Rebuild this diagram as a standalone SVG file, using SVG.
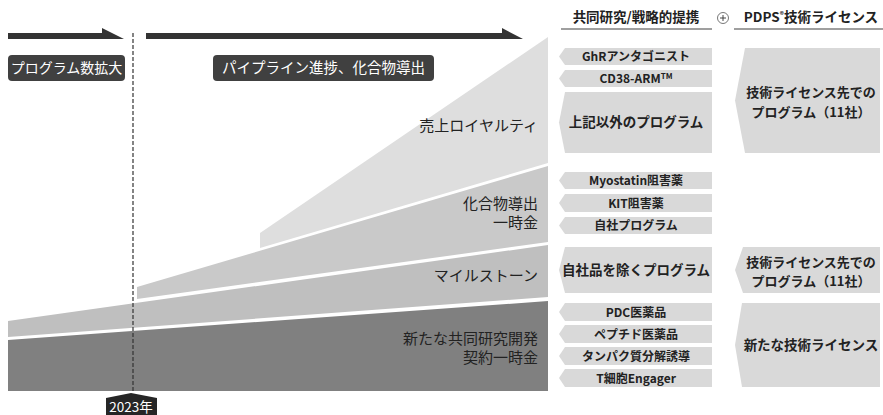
<svg xmlns="http://www.w3.org/2000/svg" width="883" height="415" viewBox="0 0 883 415">
<style>
text{font-family:"Noto Sans CJK JP","Noto Sans",sans-serif;fill:#222}
.hd{font-size:13.5px;font-weight:bold;text-anchor:middle}
.bx{font-size:12px;font-weight:bold;text-anchor:middle}
.bxl{font-size:13.5px;font-weight:bold;text-anchor:middle}
.bxm{font-size:13px;font-weight:bold;text-anchor:middle}
.bl{font-size:15px;text-anchor:end}
.tag{font-size:14.5px;fill:#fff;text-anchor:middle}
.chev{fill:#d9d9d9}
.dark{fill:#404040}
</style>
<rect width="883" height="415" fill="#fff"/>
<!-- bands -->
<g id="bands">
<polygon id="band-royalty" points="260,233 548,37 548,163 260,248" fill="#dedede"/>
<polygon id="band-compound" points="137,287 548,166 548,242 137,299" fill="#c9c9c9"/>
<polygon id="band-milestone" points="8,321 548,245 548,297 8,337" fill="#bfbfbf"/>
<polygon id="band-contract" points="8,340 548,301 548,391 8,391" fill="#808080"/>
</g>
<g id="band-labels">
<text class="bl" x="538" y="131">売上ロイヤルティ</text>
<text class="bl" x="538" y="209">化合物導出</text>
<text class="bl" x="538" y="228">一時金</text>
<text class="bl" x="538" y="281">マイルストーン</text>
<text class="bl" x="538" y="344">新たな共同研究開発</text>
<text class="bl" x="538" y="363">契約一時金</text>
</g>
<!-- top arrows -->
<g id="arrows">
<polygon points="8,33 102,33 102,28 124,39 8,39" style="fill:#333"/>
<polygon points="146,33 502,33 502,28 523,39 146,39" style="fill:#333"/>
<line x1="133" y1="33" x2="133" y2="393" stroke="#333" stroke-width="1.2" stroke-dasharray="4,2"/>
</g>
<g id="phase1">
<rect class="dark" x="8" y="55" width="117" height="26" rx="4"/>
<text class="tag" x="66.5" y="73" style="font-size:14px">プログラム数拡大</text>
</g>
<g id="phase2">
<rect class="dark" x="213" y="55" width="221" height="26" rx="4"/>
<text class="tag" x="323.5" y="73">パイプライン進捗、化合物導出</text>
</g>
<g id="year">
<polygon points="131,393 157,398 157,415 106,415 106,398" fill="#262626"/>
<text x="131" y="412" style="font-size:13.5px;fill:#fff;text-anchor:middle">2023年</text>
</g>
<!-- headers -->
<g id="header-left">
<text class="hd" x="636" y="22">共同研究/戦略的提携</text>
<line x1="561" y1="29" x2="712" y2="29" stroke="#404040" stroke-width="1.2"/>
</g>
<g id="plus">
<circle cx="723" cy="18" r="5.5" fill="#fff" stroke="#555" stroke-width="0.8"/>
<line x1="720" y1="18" x2="726" y2="18" stroke="#333" stroke-width="0.9"/>
<line x1="723" y1="15" x2="723" y2="21" stroke="#333" stroke-width="0.9"/>
</g>
<g id="header-right">
<text class="hd" x="811" y="22">PDPS<tspan style="font-size:8px" dy="-4">®</tspan><tspan dy="4">技術ライセンス</tspan></text>
<line x1="734" y1="29" x2="883" y2="29" stroke="#404040" stroke-width="1.2"/>
</g>
<!-- left column boxes -->
<g id="ghr"><polygon class="chev" points="565,48 712,48 712,65 565,65 559,56.5"/><text class="bx" x="636" y="61">GhRアンタゴニスト</text></g>
<g id="cd38"><polygon class="chev" points="565,70 712,70 712,87 565,87 559,78.5"/><text class="bx" x="636" y="83">CD38-ARM<tspan style="font-size:8px" dy="-4">TM</tspan></text></g>
<g id="other"><polygon class="chev" points="565,92 712,92 712,153 565,153 559,122.5"/><text class="bxl" x="636" y="127">上記以外のプログラム</text></g>
<g id="myostatin"><polygon class="chev" points="565,172 712,172 712,189 565,189 559,180.5"/><text class="bx" x="636" y="185">Myostatin阻害薬</text></g>
<g id="kit"><polygon class="chev" points="565,194 712,194 712,212 565,212 559,203"/><text class="bx" x="636" y="207.5">KIT阻害薬</text></g>
<g id="own"><polygon class="chev" points="565,217 712,217 712,234 565,234 559,225.5"/><text class="bx" x="636" y="230">自社プログラム</text></g>
<g id="excl"><polygon class="chev" points="565,247 712,247 712,293 565,293 559,270"/><text class="bxl" x="636" y="275">自社品を除くプログラム</text></g>
<g id="pdc"><polygon class="chev" points="565,303 712,303 712,321 565,321 559,312"/><text class="bx" x="636" y="316.5">PDC医薬品</text></g>
<g id="peptide"><polygon class="chev" points="565,325 712,325 712,343 565,343 559,334"/><text class="bx" x="636" y="338.5">ペプチド医薬品</text></g>
<g id="degrader"><polygon class="chev" points="565,347 712,347 712,365 565,365 559,356"/><text class="bx" x="636" y="360.5">タンパク質分解誘導</text></g>
<g id="tcell"><polygon class="chev" points="565,369 712,369 712,387 565,387 559,378"/><text class="bx" x="636" y="382.5">T細胞Engager</text></g>
<!-- right column boxes -->
<g id="lic1"><polygon class="chev" points="745,48 880,48 880,153 745,153 735,100.5"/><text class="bxm" x="811" y="97">技術ライセンス先での</text><text class="bxm" x="811" y="117">プログラム（11社）</text></g>
<g id="lic2"><polygon class="chev" points="743,247 880,247 880,293 743,293 735,270"/><text class="bxm" x="811" y="267">技術ライセンス先での</text><text class="bxm" x="811" y="286">プログラム（11社）</text></g>
<g id="lic3"><polygon class="chev" points="742,303 880,303 880,387 742,387 735,345"/><text class="bxl" x="811" y="350">新たな技術ライセンス</text></g>
</svg>
